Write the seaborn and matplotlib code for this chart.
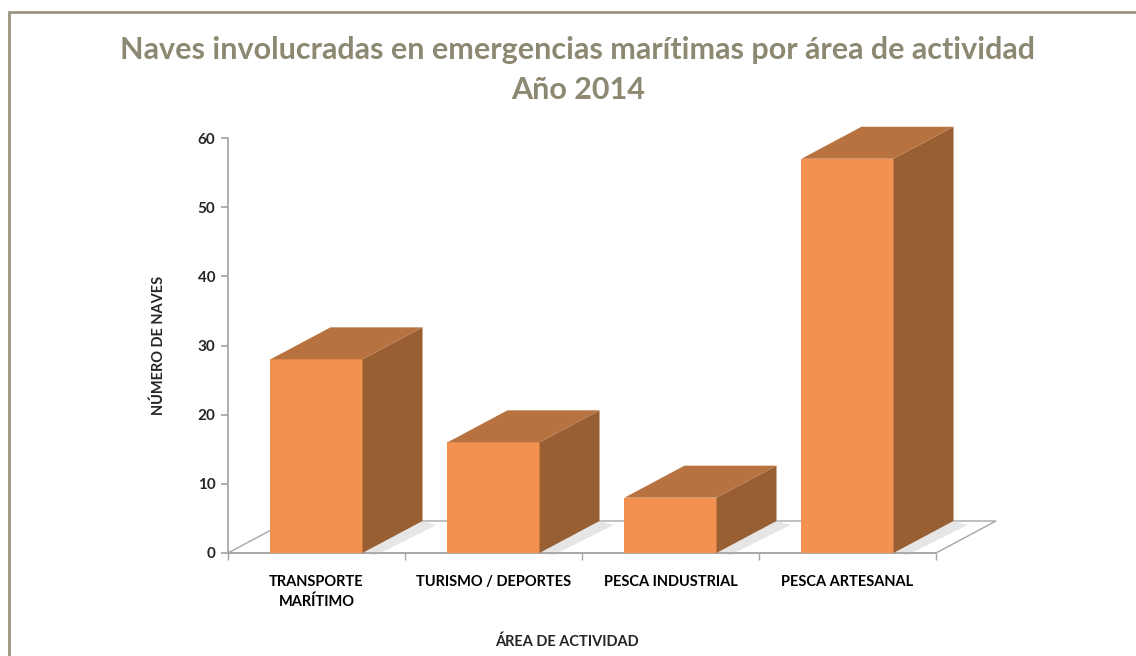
import matplotlib
matplotlib.use("Agg")
import matplotlib.pyplot as plt
import seaborn as sns
import pandas as pd
import numpy as np
from matplotlib.patches import Polygon, Rectangle

categories = ["TRANSPORTE\nMARÍTIMO", "TURISMO / DEPORTES", "PESCA INDUSTRIAL", "PESCA ARTESANAL"]
values = [28, 16, 8, 57]
y_ticks = [0, 10, 20, 30, 40, 50, 60]

title = "Naves involucradas en emergencias marítimas por área de actividad\nAño 2014"
xlabel = "ÁREA DE ACTIVIDAD"
ylabel = "NÚMERO DE NAVES"

FRONT = "#F39250"
TOP = "#B8723F"
SIDE = "#985F33"
GRID_GRAY = "#A6A6A6"
TITLE_COLOR = "#8C8872"

sns.set_theme(style="white")
plt.rcParams["font.family"] = ["Lato", "DejaVu Sans"]

W, H = 1136, 656
fig = plt.figure(figsize=(W / 100, H / 100), dpi=100)
ax = fig.add_axes([228 / W, 1 - 553 / H, (936 - 228) / W, (553 - 138) / H])

df = pd.DataFrame({"cat": categories, "val": values})
sns.barplot(data=df, x="cat", y="val", color=FRONT, saturation=1, width=0.52, ax=ax,
            zorder=3, linewidth=0, edgecolor="none")
ax.set_xlim(-0.5, len(categories) - 0.5)
ax.set_ylim(0, 60)
ax.set_yticks(y_ticks)

# depth offset in pixels
DX, DY = 60, 32
fig.canvas.draw()
to_disp = ax.transData
to_data = ax.transData.inverted()

def off(x, y, dx=DX, dy=DY):
    px, py = to_disp.transform((x, y))
    return tuple(to_data.transform((px + dx, py + dy)))

bars = [p for p in ax.patches]

# floor
fl = [(-0.5, 0), (len(categories) - 0.5, 0), off(len(categories) - 0.5, 0), off(-0.5, 0)]
ax.add_patch(Polygon(fl, closed=True, facecolor="white", edgecolor=GRID_GRAY, lw=1.0, clip_on=False, zorder=1))

for p in bars:
    x0 = p.get_x(); w = p.get_width(); h = p.get_height()
    x1 = x0 + w
    sh = [(x1, 0), off(x1, 0), off(x1, 0, DX + 14, DY - 4), off(x1, 0, 14, -2)]
    ax.add_patch(Polygon(sh, closed=True, facecolor="#DCDCDC", edgecolor="none", alpha=0.7, clip_on=False, zorder=2))
    side = [(x1, 0), off(x1, 0), off(x1, h), (x1, h)]
    top = [(x0, h), (x1, h), off(x1, h), off(x0, h)]
    ax.add_patch(Polygon(side, closed=True, facecolor=SIDE, edgecolor="none", clip_on=False, zorder=3))
    ax.add_patch(Polygon(top, closed=True, facecolor=TOP, edgecolor="none", clip_on=False, zorder=3))

for s in ["top", "right"]:
    ax.spines[s].set_visible(False)
ax.spines["left"].set_color(GRID_GRAY)
ax.spines["bottom"].set_color(GRID_GRAY)
ax.spines["left"].set_zorder(0)
ax.set_xticks(np.arange(len(categories)))
ax.set_xticklabels(categories, fontsize=10.5, fontweight="bold", color="black", linespacing=1.5)
ax.set_xticks(np.arange(len(categories) + 1) - 0.5, minor=True)
ax.tick_params(axis="x", which="major", length=0, pad=16)
ax.tick_params(axis="x", which="minor", length=5, color=GRID_GRAY, direction="out", bottom=True)
ax.tick_params(axis="y", length=5, color=GRID_GRAY, direction="out", left=True, labelsize=11, pad=4)
for t in ax.get_yticklabels():
    t.set_fontweight("bold")
ax.set_xlabel(xlabel, fontsize=10.5, fontweight="bold")
ax.xaxis.set_label_coords((567 - 228) / 708, (553 - 634) / 415)
ax.set_ylabel(ylabel, fontsize=10.5, fontweight="bold")
ax.yaxis.set_label_coords((166 - 228) / 708, (553 - 345) / 415)
ax.set_facecolor("none")

fig.text(578 / W, 1 - 70 / H, title, ha="center", va="center", fontsize=22, fontweight="bold",
         color=TITLE_COLOR, linespacing=1.5)

fig.add_artist(Rectangle((9 / W, -0.05), 1.1, 1 - 12 / H + 0.05, transform=fig.transFigure,
                         fill=False, edgecolor="#9A9580", lw=2))

fig.savefig("out.png", dpi=100)
